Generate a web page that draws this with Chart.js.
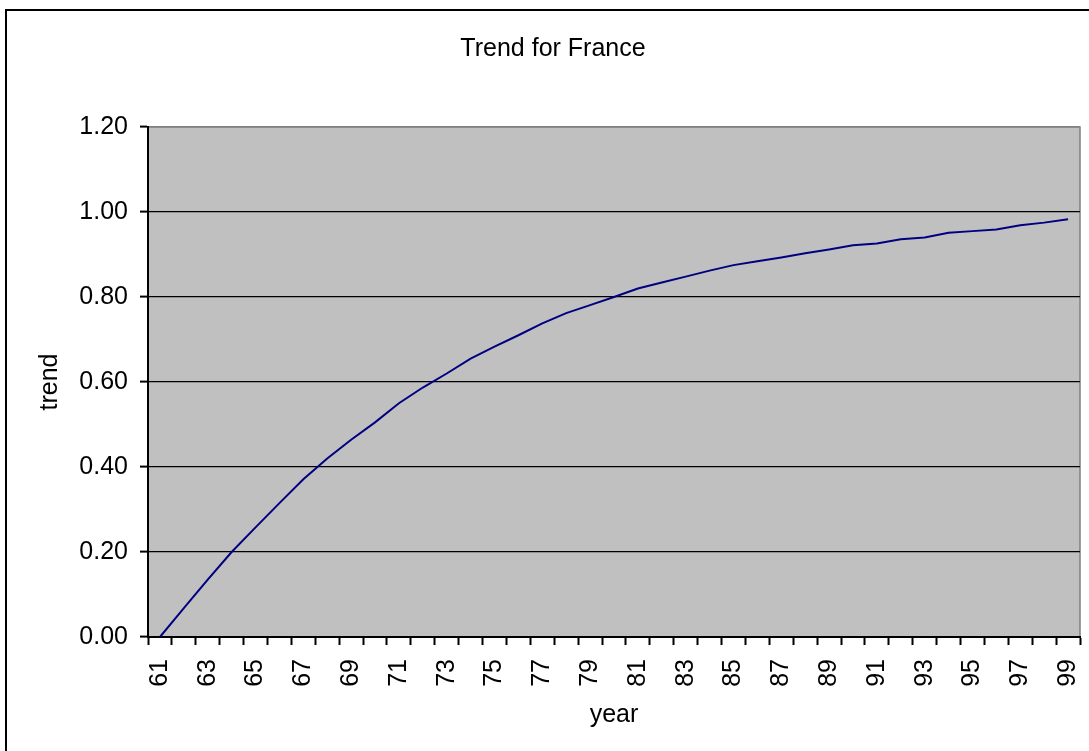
<!DOCTYPE html>
<html>
<head>
<meta charset="utf-8">
<title>Trend for France</title>
<script src="https://cdn.jsdelivr.net/npm/chart.js@4/dist/chart.umd.min.js"></script>
<style>
  html, body { margin: 0; padding: 0; background: #fff; }
  #wrap { width: 1089px; height: 751px; position: relative; }
</style>
</head>
<body>
<div id="wrap"><canvas id="chart"></canvas></div>
<script>
const years = ['61', '62', '63', '64', '65', '66', '67', '68', '69', '70',
  '71', '72', '73', '74', '75', '76', '77', '78', '79', '80',
  '81', '82', '83', '84', '85', '86', '87', '88', '89', '90',
  '91', '92', '93', '94', '95', '96', '97', '98', '99'];

const trend = [0.000, 0.068, 0.135, 0.200, 0.258, 0.315, 0.371, 0.420, 0.464, 0.505,
  0.550, 0.587, 0.620, 0.655, 0.683, 0.710, 0.738, 0.762, 0.781, 0.800,
  0.820, 0.834, 0.848, 0.862, 0.875, 0.884, 0.893, 0.903, 0.912, 0.922,
  0.926, 0.936, 0.940, 0.951, 0.955, 0.959, 0.969, 0.975, 0.983];

const yMin = 0;
const yMax = 1.2;
const yStep = 0.2;

const font = { family: '"Liberation Sans", Arial, sans-serif', size: 25 };

// grey plot area, white page and the black frame round the whole chart
const frame = {
  id: 'frame',
  beforeDraw(chart) {
    const { ctx, chartArea: a } = chart;
    ctx.save();
    ctx.fillStyle = '#fff';
    ctx.fillRect(0, 0, chart.width, chart.height);
    ctx.fillStyle = '#c0c0c0';
    ctx.fillRect(a.left, a.top, a.right - a.left, a.bottom - a.top);
    ctx.strokeStyle = '#808080';
    ctx.lineWidth = 1.5;
    ctx.strokeRect(a.left, a.top, a.right - a.left, a.bottom - a.top);
    ctx.strokeStyle = '#000';
    ctx.lineWidth = 2;
    ctx.strokeRect(6, 10, chart.width + 20, chart.height + 20);
    ctx.restore();
  }
};

new Chart(document.getElementById('chart'), {
  type: 'line',
  data: {
    labels: years,
    datasets: [{
      label: 'trend',
      data: trend,
      borderColor: '#000080',
      borderWidth: 2,
      pointRadius: 0,
      tension: 0,
      fill: false
    }]
  },
  options: {
    responsive: true,
    maintainAspectRatio: false,
    animation: false,
    layout: { padding: { left: 26, right: 9, top: 0, bottom: 0 } },
    plugins: {
      legend: { display: false },
      tooltip: { enabled: false },
      title: {
        display: true,
        text: 'Trend for France',
        color: '#000',
        font: { ...font, weight: 'normal' },
        padding: { top: 34, bottom: 63 }
      }
    },
    scales: {
      x: {
        offset: true,
        afterFit(scale) {
          scale.height = 114;
          // rotated labels would otherwise pull the plot in from the right
          scale.paddingLeft = 0;
          scale.paddingRight = 0;
        },
        grid: {
          offset: true,
          drawOnChartArea: false,
          tickLength: 8,
          tickColor: '#000',
          tickWidth: 2
        },
        border: { color: '#000', width: 2 },
        ticks: {
          autoSkip: false,
          minRotation: 90,
          maxRotation: 90,
          padding: 14,
          color: '#000',
          font: font,
          callback: function (v, i) { return i % 2 === 0 ? this.getLabelForValue(v) : ''; }
        },
        title: {
          display: true,
          text: 'year',
          color: '#000',
          font: font,
          padding: { top: 0, bottom: 21 }
        }
      },
      y: {
        min: yMin,
        max: yMax,
        afterFit(scale) { scale.width = 122; },
        grid: {
          color: (c) => (c.tick && c.tick.value >= yMax ? '#808080' : '#000'),
          lineWidth: 1.2,
          tickLength: 8,
          tickColor: '#000',
          tickWidth: 2
        },
        border: { color: '#000', width: 2 },
        ticks: {
          stepSize: yStep,
          padding: 12,
          color: '#000',
          font: font,
          callback: (v) => v.toFixed(2)
        },
        title: {
          display: true,
          text: 'trend',
          color: '#000',
          font: font,
          padding: { top: 9, bottom: 0 }
        }
      }
    }
  },
  plugins: [frame]
});
</script>
</body>
</html>
